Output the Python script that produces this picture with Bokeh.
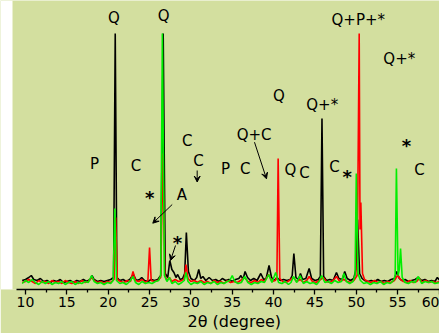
from bokeh.plotting import figure
from bokeh.models import Range1d, FixedTicker, Title, Arrow, VeeHead, ColumnDataSource, BoxAnnotation
from bokeh.core.properties import value
from bokeh.embed import file_html
from bokeh.resources import INLINE

# ---- data (2theta, intensity) ----
black_pts = [(9.6,9),(10.0,10),(10.4,12),(10.7,14),(11.0,10),(11.4,9),(11.8,11),(12.2,8),(12.6,9),(13.0,7),(13.4,9),(13.8,8),(14.2,10),(14.6,7),(15.0,8),(15.4,9),(15.8,7),(16.2,9),(16.6,8),(17.0,10),(17.4,8),(17.8,10),(18.05,14),(18.3,10),(18.7,8),(19.1,9),(19.5,8),(19.9,9),(20.3,10),(20.65,12),(20.85,256),(21.05,12),(21.4,9),(21.8,10),(22.2,8),(22.6,10),(23.05,15),(23.4,9),(23.8,10),(24.05,12),(24.4,9),(24.8,8),(25.2,10),(25.6,9),(26.0,10),(26.35,14),(26.65,256),(26.9,16),(27.2,12),(27.45,29),(27.7,20),(27.95,17),(28.2,12),(28.4,15),(28.7,10),(29.0,11),(29.25,16),(29.45,57),(29.7,18),(30.0,11),(30.4,9),(30.7,12),(30.95,20),(31.2,11),(31.45,13),(31.8,9),(32.2,12),(32.6,9),(33.0,10),(33.4,8),(33.8,11),(34.2,9),(34.6,10),(35.0,8),(35.4,10),(35.8,11),(36.05,14),(36.3,10),(36.55,18),(36.85,12),(37.2,9),(37.6,11),(38.0,9),(38.45,16),(38.8,10),(39.1,11),(39.45,24),(39.75,12),(40.1,9),(40.4,12),(40.8,9),(41.2,10),(41.6,9),(42.0,10),(42.25,14),(42.45,36),(42.7,12),(43.0,10),(43.25,16),(43.5,10),(43.9,11),(44.3,21),(44.6,11),(45.0,9),(45.4,10),(45.65,13),(45.85,171),(46.05,13),(46.4,9),(46.8,10),(47.2,9),(47.6,17),(47.9,11),(48.3,10),(48.6,18),(48.9,11),(49.3,9),(49.7,11),(49.95,20),(50.15,70),(50.4,16),(50.7,11),(51.0,9),(51.4,8),(51.8,9),(52.2,8),(52.6,10),(53.0,8),(53.4,9),(53.8,8),(54.2,10),(54.6,11),(54.9,18),(55.2,11),(55.5,9),(55.9,10),(56.3,8),(56.7,9),(57.1,10),(57.5,12),(57.9,9),(58.3,10),(58.7,8),(59.1,9),(59.5,8),(59.8,12),(60.1,9)]

red_pts = [(9.6,7),(10.0,8),(10.4,10),(10.8,8),(11.2,6),(11.6,9),(12.0,7),(12.4,8),(12.8,6),(13.2,9),(13.6,7),(14.0,8),(14.4,6),(14.8,9),(15.2,7),(15.6,6),(16.0,8),(16.4,6),(16.8,9),(17.2,7),(17.6,8),(18.0,12),(18.3,9),(18.7,7),(19.1,8),(19.5,6),(19.9,8),(20.3,7),(20.7,10),(20.9,72),(21.1,10),(21.5,8),(21.9,7),(22.3,9),(22.7,8),(23.0,18),(23.3,9),(23.7,8),(24.1,10),(24.5,7),(24.8,9),(25.0,42),(25.2,9),(25.6,8),(26.0,9),(26.35,12),(26.6,136),(26.85,14),(27.1,9),(27.4,12),(27.7,8),(28.1,10),(28.5,8),(28.9,9),(29.2,11),(29.4,25),(29.65,11),(30.0,8),(30.4,9),(30.8,7),(31.2,9),(31.6,7),(32.0,8),(32.4,6),(32.8,9),(33.2,7),(33.6,8),(34.0,6),(34.4,9),(34.8,7),(35.2,8),(35.6,7),(36.0,9),(36.5,12),(36.9,8),(37.3,7),(37.7,9),(38.1,7),(38.5,10),(38.9,8),(39.4,15),(39.8,8),(40.2,9),(40.4,12),(40.55,131),(40.75,11),(41.1,8),(41.5,7),(41.9,9),(42.4,12),(42.8,8),(43.2,10),(43.6,7),(44.0,9),(44.3,13),(44.7,8),(45.1,7),(45.5,9),(46.0,12),(46.4,8),(46.8,7),(47.2,9),(47.6,13),(48.0,8),(48.5,10),(48.9,8),(49.3,7),(49.7,9),(50.1,14),(50.35,256),(50.45,60),(50.55,87),(50.75,16),(51.0,10),(51.4,8),(51.8,7),(52.2,9),(52.6,7),(53.0,8),(53.4,6),(53.8,8),(54.2,7),(54.6,9),(55.0,14),(55.35,10),(55.7,8),(56.1,7),(56.5,9),(56.9,7),(57.3,8),(57.6,11),(58.0,7),(58.4,9),(58.8,7),(59.2,8),(59.6,7),(60.1,8)]

green_pts = [(9.6,6),(10.0,9),(10.4,7),(10.8,10),(11.2,7),(11.6,5),(12.0,8),(12.4,6),(12.8,8),(13.2,5),(13.6,7),(14.0,6),(14.4,8),(14.8,5),(15.2,7),(15.6,8),(16.0,5),(16.4,7),(16.8,6),(17.2,8),(17.6,7),(18.0,14),(18.3,8),(18.7,6),(19.1,7),(19.5,5),(19.9,7),(20.3,6),(20.6,9),(20.8,81),(21.0,9),(21.4,6),(21.8,7),(22.2,5),(22.6,8),(23.0,13),(23.3,7),(23.7,5),(24.1,8),(24.5,6),(24.9,7),(25.3,6),(25.7,8),(26.1,9),(26.35,14),(26.55,256),(26.8,14),(27.1,8),(27.4,12),(27.7,6),(28.1,8),(28.5,5),(28.9,7),(29.2,9),(29.4,17),(29.65,8),(30.0,5),(30.4,7),(30.8,6),(31.2,8),(31.6,5),(32.0,7),(32.4,6),(32.8,8),(33.2,5),(33.6,7),(34.0,6),(34.4,8),(34.7,9),(35.0,14),(35.3,8),(35.7,6),(36.1,7),(36.5,13),(36.9,7),(37.3,5),(37.7,7),(38.1,6),(38.5,8),(38.9,7),(39.4,15),(39.8,7),(40.25,17),(40.6,7),(41.0,6),(41.4,8),(41.8,5),(42.1,7),(42.4,13),(42.8,7),(43.2,14),(43.6,6),(44.0,8),(44.4,6),(44.8,7),(45.2,5),(45.5,8),(45.8,14),(46.2,7),(46.6,8),(47.0,6),(47.4,9),(47.8,7),(48.2,8),(48.5,16),(48.8,8),(49.2,6),(49.6,8),(49.85,14),(50.0,116),(50.2,16),(50.5,9),(50.9,6),(51.3,7),(51.7,5),(52.1,7),(52.5,6),(52.9,8),(53.3,5),(53.7,7),(54.1,6),(54.5,9),(54.7,14),(54.85,121),(55.05,14),(55.2,20),(55.35,41),(55.55,12),(55.9,7),(56.3,6),(56.7,8),(57.1,7),(57.5,13),(57.9,6),(58.3,8),(58.7,7),(59.1,8),(59.5,6),(60.1,7)]

tick_vals = [10, 15, 20, 25, 30, 35, 40, 45, 50, 55, 60]
minor_vals = [12.5, 17.5, 22.5, 27.5, 32.5, 37.5, 42.5, 47.5, 52.5, 57.5]
x_label = "2θ (degree)"

# phase labels
lbl_t = ["Q", "Q", "Q", "Q+P+*", "Q+*", "Q+*", "Q+C", "P", "C", "Q", "C", "C", "C", "P", "C", "A", "C", "C"]
lbl_x = [20.70, 26.72, 40.63, 50.24, 55.20, 45.88, 37.65, 34.18, 36.57, 42.04, 43.74, 47.36, 57.64, 18.34, 23.36, 28.90, 29.55, 30.92]
lbl_y = [271.5, 273.7, 194, 270, 230.5, 185, 155, 121, 121, 120, 117, 123, 120, 126, 124, 95, 149, 128.5]

star_t = ["*", "*", "*", "*"]
star_x = [48.9, 56.07, 25.03, 28.36]
star_y = [117, 148, 96, 51.5]

arr_x0 = [27.74, 37.69, 30.76, 28.14]
arr_y0 = [85, 147.3, 119, 44]
arr_x1 = [25.39, 39.14, 30.76, 27.53]
arr_y1 = [66.3, 110.7, 107.5, 29]

BG = "#D3DF9F"
FONT = "DejaVu Sans"

p = figure(width=439, height=333, x_range=Range1d(6.977, 60.06), y_range=Range1d(0, 289),
           output_backend="svg", toolbar_location=None, y_axis_location=None,
           min_border_left=0, min_border_right=0, min_border_top=0, min_border_bottom=44)
p.background_fill_color = BG
p.border_fill_color = BG
p.outline_line_color = None
p.xgrid.visible = False
p.ygrid.visible = False

# white strip at the left edge of the picture
p.add_layout(BoxAnnotation(right=8.43, fill_color="white", fill_alpha=1.0, line_color=None, level="underlay"))

for pts, col in [(black_pts, "black"), (red_pts, "#FF0000"), (green_pts, "#00EE00")]:
    xs = [a for a, b in pts]
    ys = [b for a, b in pts]
    p.line(xs, ys, line_color=col, line_width=1.6)

ax = p.xaxis[0]
ax.ticker = FixedTicker(ticks=tick_vals, minor_ticks=minor_vals)
ax.bounds = (8.9, 60.06)
ax.axis_line_width = 1.5
ax.axis_line_color = "black"
ax.major_tick_in = 0
ax.major_tick_out = 5
ax.minor_tick_in = 0
ax.minor_tick_out = 3
ax.major_tick_line_width = 1.3
ax.minor_tick_line_width = 1.3
ax.major_label_standoff = 2
ax.major_label_text_font = FONT
ax.major_label_text_font_size = "14px"
ax.major_label_text_color = "black"

lsrc = ColumnDataSource(dict(x=lbl_x, y=lbl_y, t=lbl_t))
p.text(x="x", y="y", text="t", source=lsrc, text_font=value(FONT), text_font_size="15px",
       text_align="center", text_baseline="middle", text_color="black")

ssrc = ColumnDataSource(dict(x=star_x, y=star_y, t=star_t))
p.text(x="x", y="y", text="t", source=ssrc, text_font=value(FONT), text_font_size="18px",
       text_font_style="bold", text_align="center", text_baseline="middle",
       text_color="black", y_offset=4)

asrc = ColumnDataSource(dict(x0=arr_x0, y0=arr_y0, x1=arr_x1, y1=arr_y1))
p.add_layout(Arrow(x_start="x0", y_start="y0", x_end="x1", y_end="y1", source=asrc,
                   line_color="black", line_width=1,
                   end=VeeHead(size=6, fill_color="black", line_color="black")))

p.add_layout(Title(text=x_label, align="left", offset=187, standoff=0,
                   text_font=FONT, text_font_size="16px", text_font_style="normal",
                   text_color="black"), "below")

open("out.html", "w").write(file_html(p, INLINE))
